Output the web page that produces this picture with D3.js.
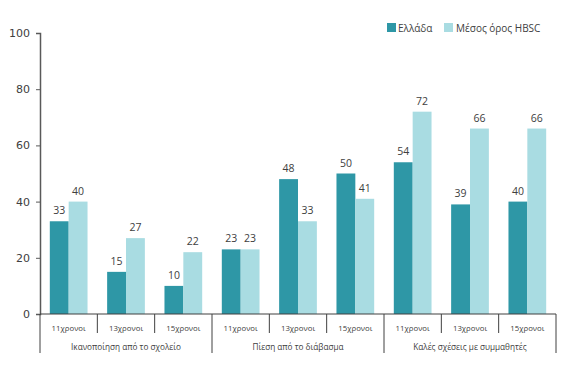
<!DOCTYPE html>
<html><head><meta charset="utf-8">
<script src="https://cdn.jsdelivr.net/npm/d3@7"></script>
<style>body{margin:0;background:#fff}svg{display:block}</style>
</head><body><svg id="c" width="575" height="369"></svg>
<script>
const groups = ["Ικανοποίηση από το σχολείο","Πίεση από το διάβασμα","Καλές σχέσεις με συμμαθητές"];
const ages = ["11χρονοι","13χρονοι","15χρονοι"];
const seriesNames = ["Ελλάδα","Μέσος όρος HBSC"];
const greece = [33,15,10,23,48,50,54,39,40];
const hbsc = [40,27,22,23,33,41,72,66,66];
const yTicks = [0,20,40,60,80,100];
const colors = ["#2E97A6","#A9DCE2"];

(function(){
const svg = d3.select("#c");
const mLeft = 40, mRight = 556, mTop = 33, mBottom = 314;
const cats = d3.range(groups.length*ages.length);
const x = d3.scaleBand().domain(cats).range([mLeft,mRight]);
const y = d3.scaleLinear().domain([0,100]).range([mBottom,mTop]);
const inner = d3.scaleBand().domain([0,1]).range([0,x.bandwidth()]).paddingOuter(0.52).paddingInner(0);

// y axis
const ya = svg.append("g").attr("transform",`translate(${mLeft},0)`)
  .call(d3.axisLeft(y).tickValues(yTicks).tickSize(4).tickPadding(6));
ya.select(".domain").attr("stroke","#595959").attr("stroke-width",1.5);
ya.selectAll(".tick line").attr("stroke","#595959");
ya.selectAll(".tick text").attr("fill","#404040").style("font-family","DejaVu Sans, Verdana, sans-serif").style("font-size","11px");

// bars
const data = [greece,hbsc];
data.forEach((vals,s)=>{
  svg.append("g").selectAll("rect").data(vals).join("rect")
    .attr("x",(d,i)=>x(i)+inner(s)).attr("width",inner.bandwidth())
    .attr("y",d=>y(d)).attr("height",d=>mBottom-y(d)).attr("fill",colors[s]);
  svg.append("g").selectAll("text").data(vals).join("text")
    .attr("x",(d,i)=>x(i)+inner(s)+inner.bandwidth()/2).attr("y",d=>y(d)-7)
    .attr("text-anchor","middle").attr("fill","#404040")
    .style("font-family","Open Sans, sans-serif").style("font-size","10.5px").text(d=>d);
});

// x axis
svg.append("line").attr("x1",mLeft).attr("x2",mRight).attr("y1",mBottom).attr("y2",mBottom).attr("stroke","#404040").attr("stroke-width",1.2);
d3.range(cats.length+1).forEach(k=>{
  const xx = k<cats.length ? x(k) : mRight;
  const isGroup = k%ages.length===0;
  svg.append("line").attr("x1",xx).attr("x2",xx).attr("y1",mBottom).attr("y2",isGroup?353:333)
    .attr("stroke","#404040").attr("stroke-width",1);
});
svg.append("g").selectAll("text").data(cats).join("text")
  .attr("x",i=>x(i)+x.bandwidth()/2).attr("y",331).attr("text-anchor","middle")
  .attr("fill","#404040").style("font-family","Open Sans, sans-serif").style("font-size","7.8px")
  .text(i=>ages[i%ages.length]);
svg.append("g").selectAll("text").data(groups).join("text")
  .attr("x",(g,j)=>x(j*3)+x.bandwidth()*1.5).attr("y",350).attr("text-anchor","middle")
  .attr("fill","#404040").style("font-family","Open Sans, sans-serif").style("font-size","8.2px")
  .text(g=>g);

// legend
const leg = [{x:387,tx:398},{x:444,tx:456}];
seriesNames.forEach((n,i)=>{
  svg.append("rect").attr("x",leg[i].x).attr("y",23).attr("width",9).attr("height",9).attr("fill",colors[i]);
  svg.append("text").attr("x",leg[i].tx).attr("y",31.5).attr("fill","#404040")
    .style("font-family","Open Sans, sans-serif").style("font-size","10px").text(n);
});
})();
</script></body></html>
